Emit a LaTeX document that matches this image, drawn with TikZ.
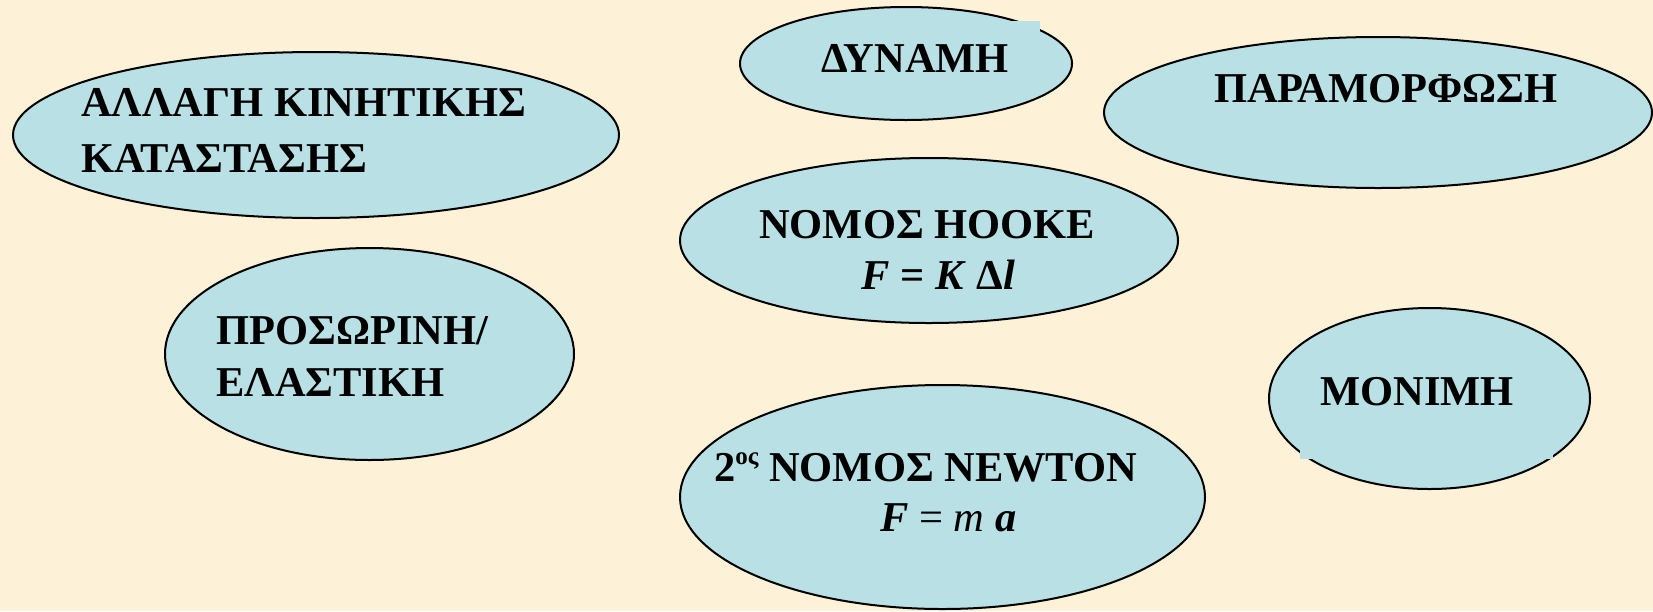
\documentclass[tikz,border=0pt]{standalone}
\usepackage{fontspec}
\setmainfont{Liberation Serif}
\usetikzlibrary{shapes.geometric}
\definecolor{bgcol}{HTML}{FDF1D8}
\definecolor{ellcol}{HTML}{B9E0E4}
\tikzset{
  bubble/.style={ellipse, draw=black, line width=2pt, fill=ellcol, inner sep=0pt},
  lbl/.style={anchor=base west, inner sep=0pt, font=\fontsize{42.5}{50}\selectfont\bfseries},
  patch/.style={fill=ellcol, draw=none}
}
\begin{document}
\begin{tikzpicture}[x=1pt,y=-1pt]
\fill[bgcol] (0,0) rectangle (1653,611);
\useasboundingbox (0,0) rectangle (1653,611);
% ellipses
\node[bubble, minimum width=606pt, minimum height=166pt] (kin) at (316,135) {};
\node[bubble, minimum width=332pt, minimum height=113pt] (dyn) at (906,63.5) {};
\node[bubble, minimum width=548pt, minimum height=151pt] (par) at (1378,112.5) {};
\node[bubble, minimum width=498pt, minimum height=165pt] (hooke) at (929,240.5) {};
\node[bubble, minimum width=409pt, minimum height=212pt] (pros) at (369.5,354) {};
\node[bubble, minimum width=321pt, minimum height=181pt] (mon) at (1429.5,398.5) {};
\node[bubble, minimum width=525pt, minimum height=224pt] (newt) at (942.5,497) {};
% text-box patches covering the outline
\fill[patch] (1000,21) rectangle (1040,45);
\fill[patch] (1300,400) rectangle (1553,459);
% labels
\node[lbl] (t1) at (81,116) {ΑΛΛΑΓΗ ΚΙΝΗΤΙΚΗΣ};
\node[lbl] (t2) at (81,172) {ΚΑΤΑΣΤΑΣΗΣ};
\node[lbl] (t3) at (821,72) {ΔΥΝΑΜΗ};
\node[lbl] (t4) at (1214,102) {ΠΑΡΑΜΟΡΦΩΣΗ};
\node[lbl] (t5) at (759,238.5) {ΝΟΜΟΣ HOOKE};
\node[lbl] (t6) at (861,289.5) {\textit{F} = \textit{K} Δ\textit{l}};
\node[lbl] (t7) at (216,344) {ΠΡΟΣΩΡΙΝΗ/};
\node[lbl] (t8) at (216,396) {ΕΛΑΣΤΙΚΗ};
\node[lbl] (t9) at (1320,405) {ΜΟΝΙΜΗ};
\node[lbl] (t10) at (714,481) {2\raisebox{0.38em}{\fontsize{25}{25}\selectfont ος} ΝΟΜΟΣ NEWTON};
\node[lbl] (t11) at (880,531) {\textit{F} \mdseries= \textit{m} \bfseries\textit{a}};
\end{tikzpicture}
\end{document}
